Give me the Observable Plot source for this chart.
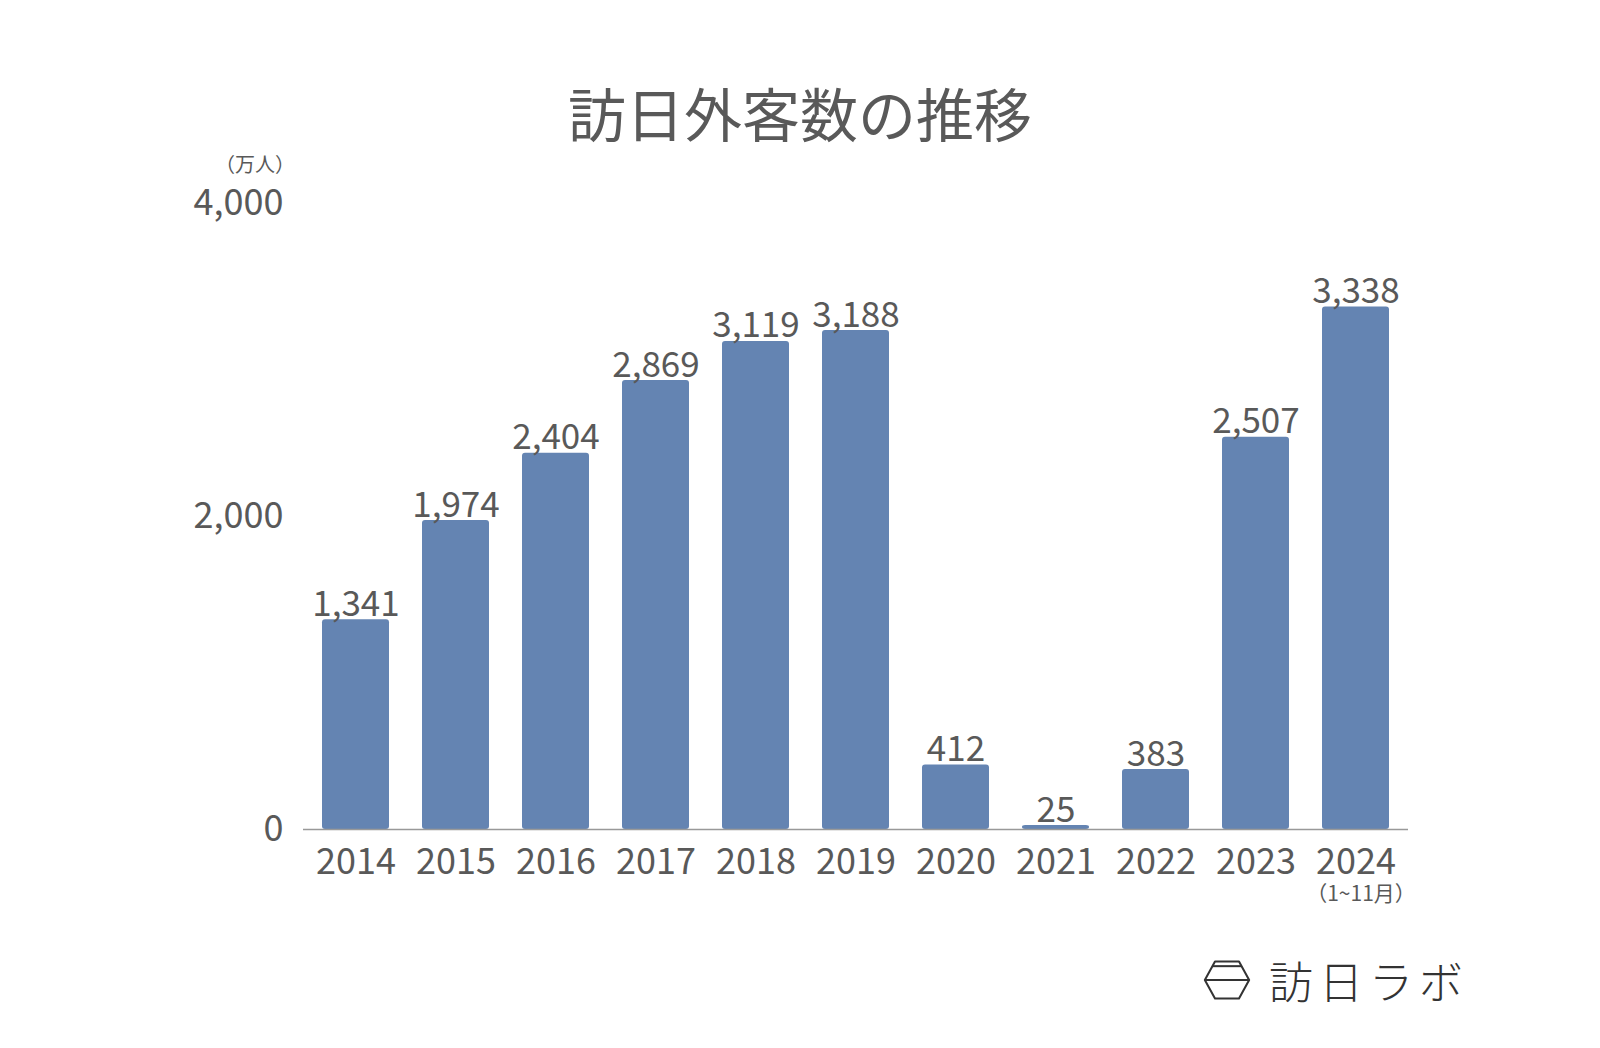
<!DOCTYPE html>
<html><head><meta charset="utf-8">
<script src="https://cdn.jsdelivr.net/npm/d3@7"></script>
<script src="https://cdn.jsdelivr.net/npm/@observablehq/plot@0.6"></script>
<style>
body{margin:0;background:#fff;}
#wrap{position:relative;width:1600px;height:1048px;overflow:hidden;font-family:"Noto Sans CJK JP","Noto Sans",sans-serif;color:#595959;}
#title{position:absolute;left:0;width:1600px;top:75px;text-align:center;font-size:58px;font-weight:400;line-height:74px;color:#595959;}
#unit{position:absolute;left:215px;top:154px;font-size:20px;line-height:20px;color:#595959;}
#chart{position:absolute;left:0;top:140px;}
#logo{position:absolute;left:1203px;top:950px;display:flex;align-items:center;gap:18px;color:#333;}
#logo span{font-size:44px;font-weight:300;letter-spacing:6px;line-height:60px;}
</style></head>
<body><div id="wrap">
<div id="title">訪日外客数の推移</div>
<div id="unit">（万人）</div>
<div id="chart"></div>
<div id="logo"><svg width="48" height="42" viewBox="0 0 52 44"><g fill="none" stroke="#333" stroke-width="2.2" stroke-linejoin="round"><polygon points="13,2 39,2 50,22 39,42 13,42 2,22"/><line x1="10" y1="7" x2="42" y2="7"/><line x1="2" y1="22" x2="50" y2="22"/></g></svg><span>訪日ラボ</span></div>
</div>
<script>
const years = ["2014","2015","2016","2017","2018","2019","2020","2021","2022","2023","2024"];
const visitors = [1341,1974,2404,2869,3119,3188,412,25,383,2507,3338];
const yTicks = [0,2000,4000];
const subLabels = [{year:"2024", text:"（1~11月）"}];

const data = years.map((y,i)=>({year:y, value:visitors[i]}));
const font = "'Noto Sans CJK JP','Noto Sans',sans-serif";

const chart = Plot.plot({
  width:1600, height:800,
  marginLeft:303, marginRight:192, marginTop:63, marginBottom:111,
  style:{fontFamily:font, color:"#595959", background:"transparent"},
  x:{domain:years, paddingInner:0.33, paddingOuter:0.165, label:null},
  y:{domain:[0,4000], label:null},
  marks:[
    Plot.barY(data,{x:"year", y:"value", fill:"#6484b2", rx:3}),
    Plot.ruleY([0],{stroke:"#999", strokeWidth:1.5}),
    Plot.text(data,{x:"year", y:"value", text:d=>d3.format(",")(d.value), lineAnchor:"bottom", dy:-4, fontSize:35, fill:"#595959"}),
    Plot.axisX({tickSize:0, tickPadding:19, fontSize:36, fill:"#595959", label:null}),
    Plot.axisY({ticks:yTicks, tickFormat:d3.format(","), tickSize:0, tickPadding:20, fontSize:36, fill:"#595959", label:null}),
    Plot.text(subLabels,{x:"year", y:()=>0, text:"text", dy:65, dx:5, fontSize:21, fill:"#595959"})
  ]
});
document.getElementById("chart").appendChild(chart);
</script>
</body></html>
